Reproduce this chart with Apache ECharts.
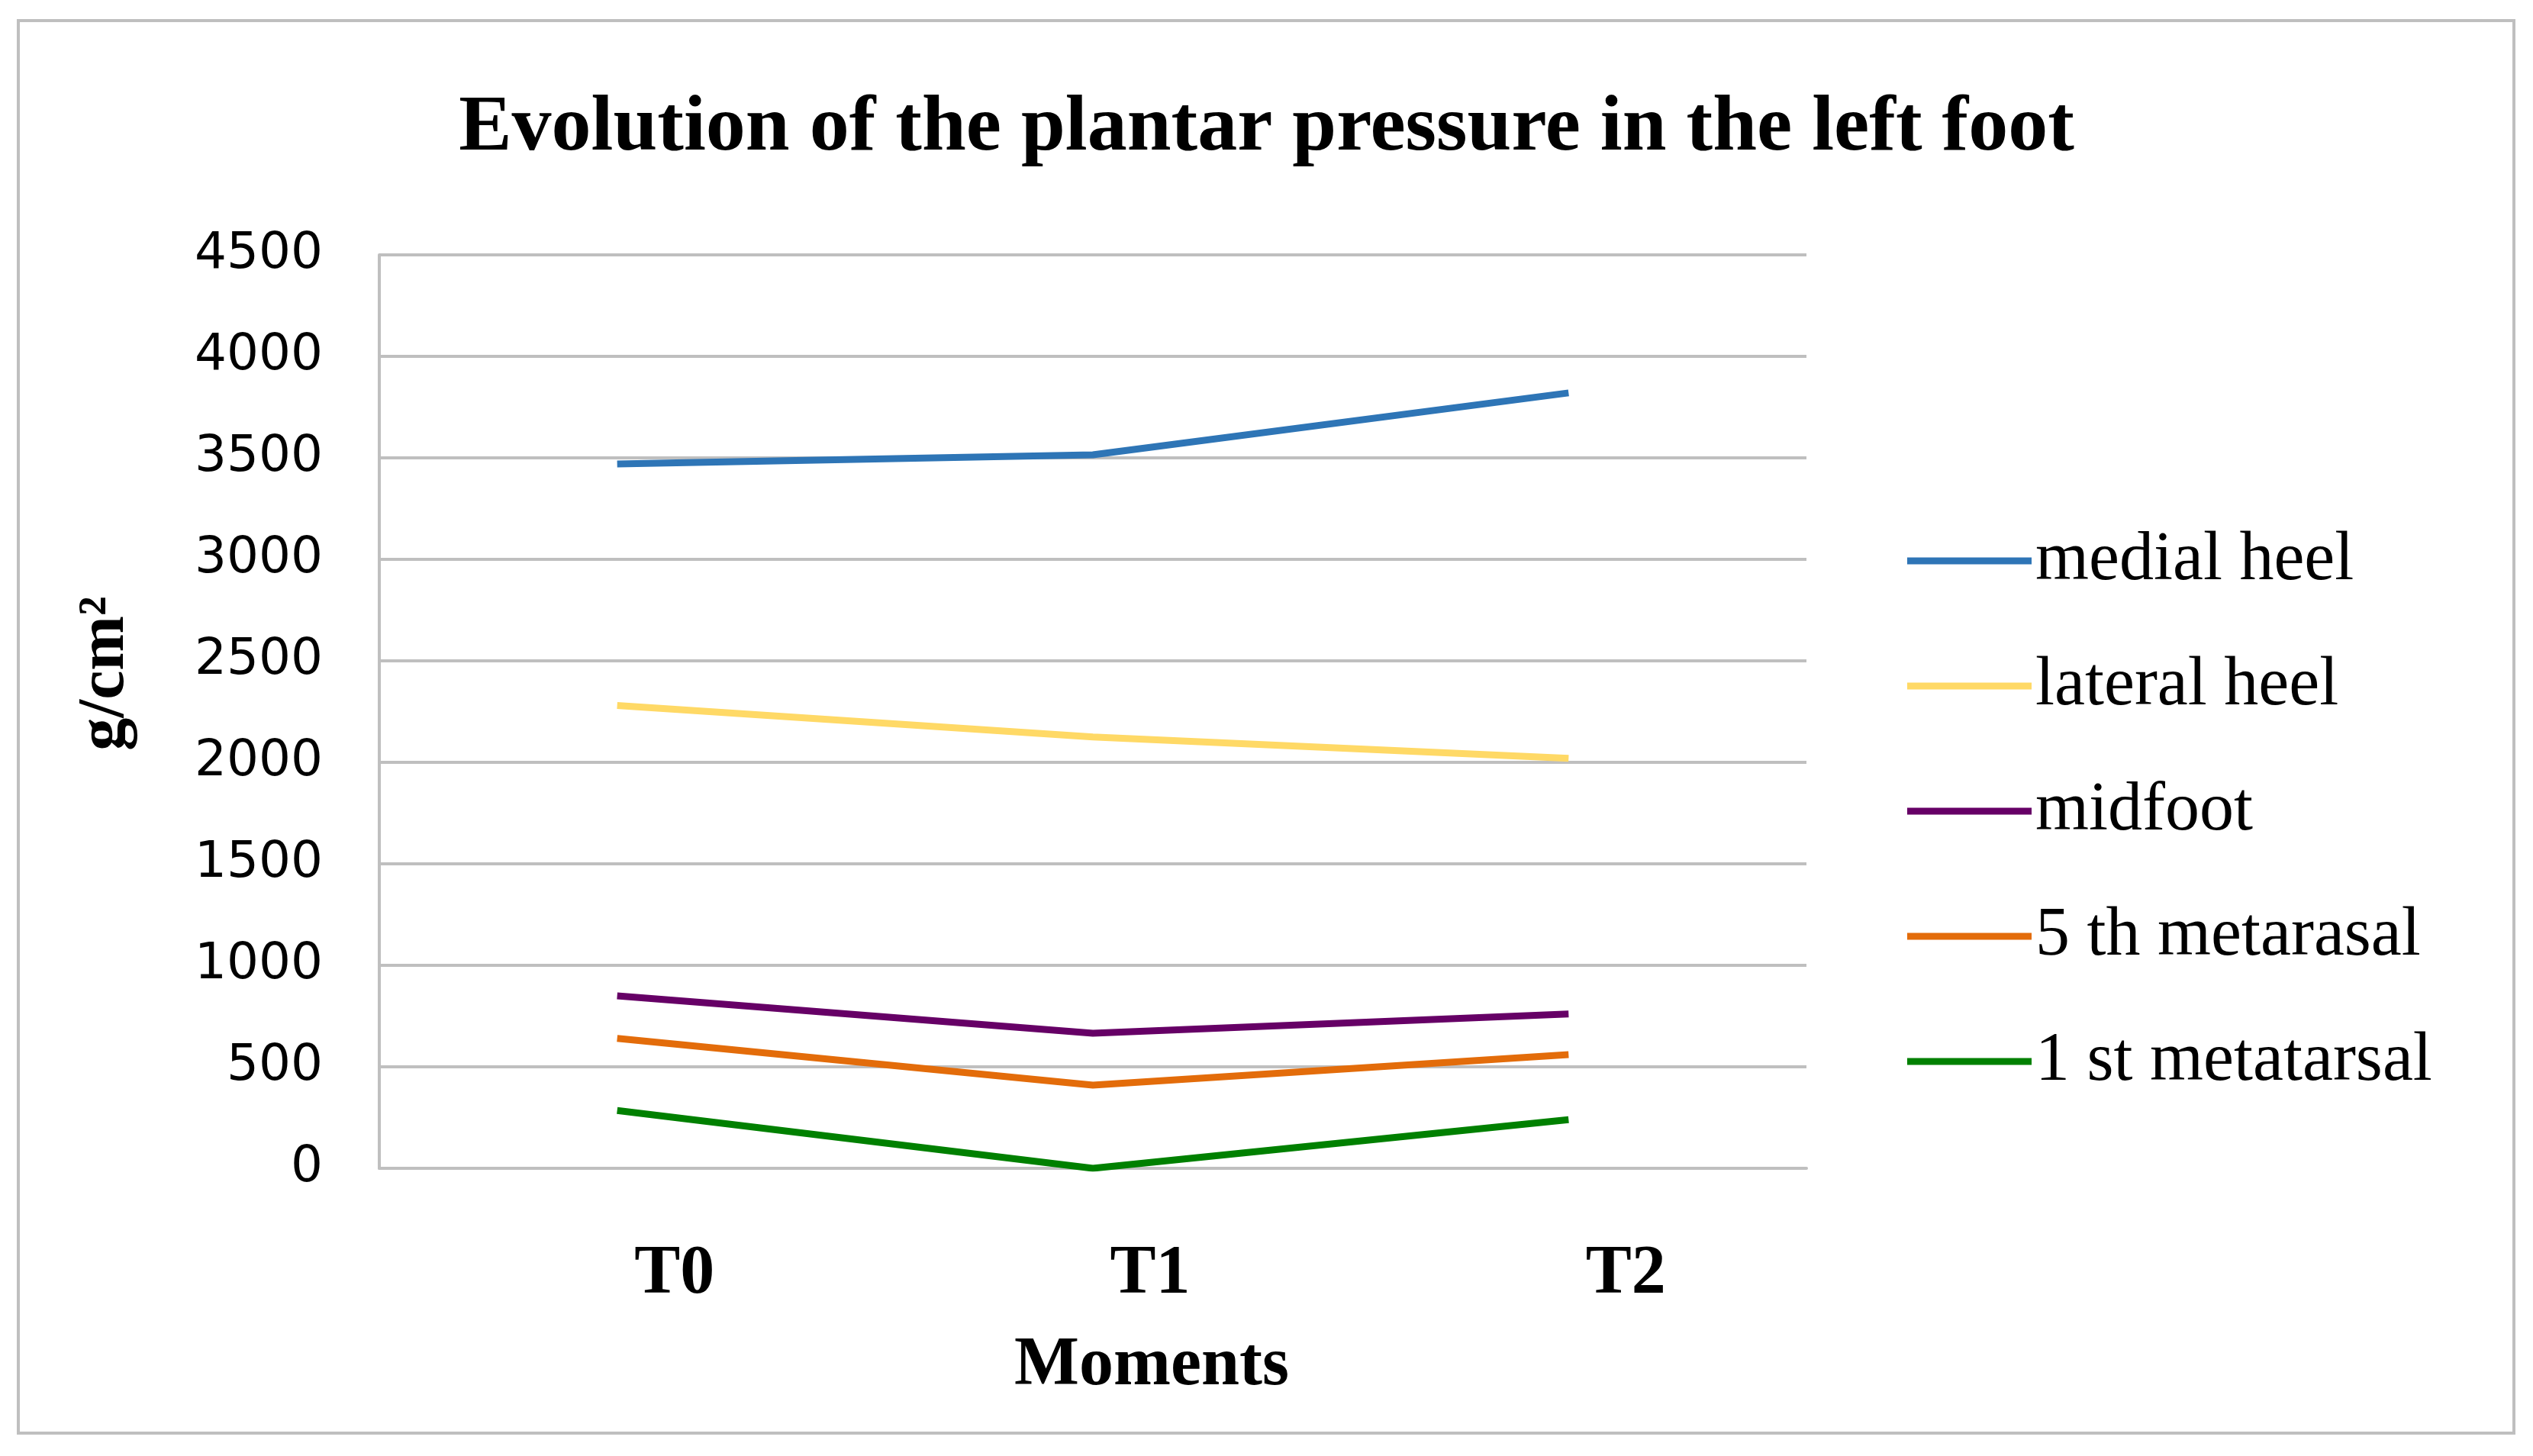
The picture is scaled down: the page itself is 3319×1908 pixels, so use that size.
<!DOCTYPE html>
<html>
<head>
<meta charset="utf-8">
<script src="https://cdn.jsdelivr.net/npm/echarts@6/dist/echarts.min.js"></script>
<style>html,body{margin:0;padding:0;background:#fff}#c{width:3319px;height:1908px}</style>
</head>
<body>
<div id="c"></div>
<script>
var categories = ['T0', 'T1', 'T2'];
var medialHeel = [3470, 3515, 3820];
var lateralHeel = [2280, 2125, 2020];
var midfoot = [850, 665, 760];
var fifthMetatarsal = [640, 410, 560];
var firstMetatarsal = [285, 0, 240];
var seriesNames = ['medial heel', 'lateral heel', 'midfoot', '5 th metarasal', '1 st metatarsal'];
var seriesColors = ['#2E75B6', '#FFD966', '#660066', '#E36C0A', '#008000'];
var seriesData = [medialHeel, lateralHeel, midfoot, fifthMetatarsal, firstMetatarsal];

var chart = echarts.init(document.getElementById('c'));
var serif = '"Liberation Serif", "DejaVu Serif", serif';
chart.setOption({
  backgroundColor: '#fff',
  animation: false,
  title: {
    text: 'Evolution of the plantar pressure in the left foot',
    left: 'center',
    top: 112,
    textStyle: { fontFamily: serif, fontWeight: 'bold', fontSize: 104, color: '#000' }
  },
  graphic: [{
    type: 'rect',
    shape: { x: 24, y: 27, width: 3270, height: 1851 },
    style: { fill: 'none', stroke: '#BFBFBF', lineWidth: 4 }
  }],
  legend: {
    orient: 'vertical',
    left: 2494,
    top: 685,
    icon: 'rect',
    itemWidth: 163,
    itemHeight: 9,
    itemGap: 74,
    textStyle: { fontFamily: serif, fontSize: 90, color: '#000', lineHeight: 90 },
    data: seriesNames
  },
  grid: { left: 497, right: 952, top: 334, bottom: 377 },
  xAxis: {
    type: 'category',
    data: categories,
    boundaryGap: true,
    name: 'Moments',
    nameLocation: 'middle',
    nameGap: 215,
    nameTextStyle: { fontFamily: serif, fontWeight: 'bold', fontSize: 90, color: '#000', padding: [0, 0, 0, 154] },
    axisLine: { lineStyle: { color: '#BFBFBF', width: 4 } },
    axisTick: { show: false },
    axisLabel: { fontFamily: serif, fontWeight: 'bold', fontSize: 90, color: '#000', margin: 95, padding: [0, 0, 0, 150] }
  },
  yAxis: {
    type: 'value',
    min: 0,
    max: 4500,
    interval: 500,
    name: 'g/cm²',
    nameLocation: 'middle',
    nameGap: 315,
    nameRotate: 90,
    nameTextStyle: { fontFamily: serif, fontWeight: 'bold', fontSize: 86, color: '#000', padding: [0, 0, 0, 100] },
    axisLine: { show: true, lineStyle: { color: '#BFBFBF', width: 4 } },
    axisTick: { show: false },
    axisLabel: {
      fontFamily: '"DejaVu Sans", Verdana, sans-serif', fontSize: 66, color: '#000', margin: 74,
      formatter: function (v) { return String(v); }
    },
    splitLine: { lineStyle: { color: '#BFBFBF', width: 4 } }
  },
  series: seriesNames.map(function (n, i) {
    return {
      name: n,
      type: 'line',
      data: seriesData[i],
      symbol: 'none',
      color: seriesColors[i],
      lineStyle: { color: seriesColors[i], width: 9 }
    };
  })
});
</script>
</body>
</html>
